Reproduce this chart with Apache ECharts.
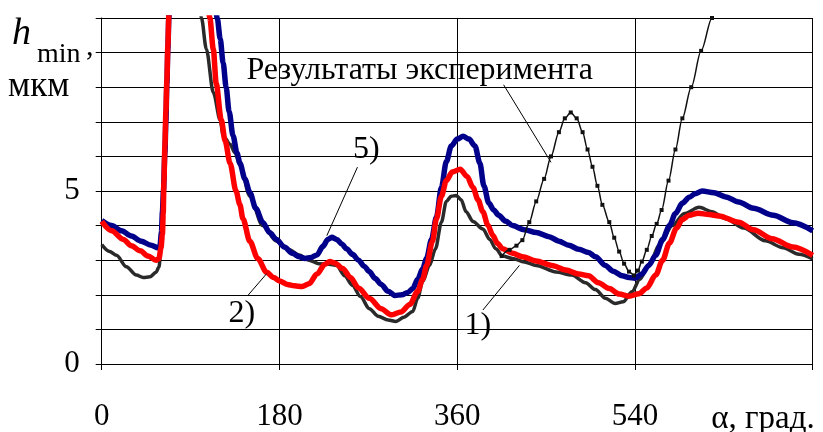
<!DOCTYPE html>
<html>
<head>
<meta charset="utf-8">
<script src="https://cdn.jsdelivr.net/npm/echarts@6/dist/echarts.min.js"></script>
<style>
html,body{margin:0;padding:0;background:#fff;}
#main{width:823px;height:432px;}
</style>
</head>
<body>
<div id="main"></div>
<script>
// x: crank angle alpha, degrees; y: h_min, micrometres
var xTicks = [0, 180, 360, 540, 720];
var yLabelled = [0, 5];

// curve 5) (blue)
var curve5 = [[0,4.15],[10,4.0],[20,3.85],[30,3.7],[40,3.55],[50,3.43],[57,3.36],[59,3.42],[60.5,3.8],[61.5,4.4],[62.5,5.0],[64,6.1],[65,7.0],[66,8.1],[67,9.1],[68,10],[70,11.5],[112,11.5],[117,10],[120,9.4],[123,8.7],[126,8.0],[129,7.3],[133,6.6],[137,6.1],[140,5.8],[145,5.35],[150,4.96],[156,4.5],[163,4.1],[170,3.8],[177,3.6],[185,3.38],[193,3.2],[200,3.1],[206,3.05],[212,3.08],[218,3.15],[224,3.4],[229,3.6],[233,3.66],[238,3.6],[243,3.47],[248,3.33],[254,3.17],[260,3.0],[266,2.82],[271,2.67],[277,2.47],[283,2.3],[290,2.1],[297,1.98],[304,2.0],[310,2.07],[315,2.18],[320,2.45],[325,2.75],[329,3.05],[334,3.6],[339,4.25],[344,5.1],[349,5.85],[354,6.3],[360,6.5],[366,6.58],[372,6.5],[378,6.3],[383,5.8],[387,5.15],[392,4.65],[397,4.45],[402,4.3],[409,4.13],[416,4.0],[428,3.88],[440,3.8],[453,3.68],[463,3.55],[473,3.43],[483,3.32],[493,3.22],[500,3.1],[510,2.85],[518,2.68],[527,2.55],[534,2.5],[540,2.48],[547,2.6],[554,2.85],[561,3.14],[568,3.6],[575,4.0],[581,4.35],[588,4.65],[595,4.82],[601,4.92],[608,5.0],[620,4.95],[632,4.83],[645,4.68],[660,4.5],[680,4.3],[700,4.08],[720,3.85]];

// curve 2) (red)
var curve2 = [[0,4.12],[10,3.85],[22,3.6],[30,3.42],[39,3.27],[47,3.12],[55,3.0],[58,3.05],[60,3.35],[61.5,3.75],[62.3,4.35],[63,5.25],[64,6.3],[65,7.3],[66,8.2],[67,9.2],[68,10.1],[70,11.5],[105,11.5],[109.5,10],[113,9.1],[116,8.1],[121,7.07],[125,6.45],[130,5.8],[136,5.0],[140,4.6],[143,4.2],[150,3.55],[158,3.05],[167,2.65],[174,2.5],[180,2.4],[188,2.3],[195,2.26],[203,2.24],[210,2.32],[218,2.6],[226,2.88],[231,2.96],[236,2.92],[244,2.76],[252,2.5],[260,2.2],[271,1.9],[283,1.6],[293,1.42],[303,1.5],[312,1.72],[320,2.1],[325,2.45],[329,2.85],[335,3.55],[339,4.2],[344,4.85],[349,5.3],[355,5.55],[363,5.63],[370,5.42],[376,5.1],[381,4.75],[386,4.4],[391,4.02],[396,3.72],[401,3.48],[406,3.33],[416,3.2],[426,3.1],[440,2.98],[456,2.85],[470,2.72],[483,2.6],[493,2.55],[503,2.35],[514,2.18],[524,2.02],[534,1.96],[544,2.03],[552,2.2],[561,2.57],[568,3.0],[575,3.5],[582,3.92],[588,4.18],[595,4.3],[604,4.36],[615,4.32],[625,4.28],[645,4.1],[660,3.88],[679,3.62],[700,3.38],[720,3.14]];

// curve 1) (black)
var curve1 = [[0,3.45],[8,3.25],[15,3.14],[25,2.81],[35,2.57],[42,2.5],[49,2.52],[55,2.65],[58,2.8],[60,3.3],[62,4.5],[64,6.0],[66,7.6],[67,8.7],[68,9.8],[70,11.5],[98,11.5],[101,10],[106,9.1],[113,7.85],[120,7.05],[123,6.6],[130,6.35],[135,6.1],[140,5.75],[150,4.85],[163,4.0],[177,3.55],[190,3.3],[200,3.15],[210,3.0],[220,2.9],[230,2.88],[238,2.85],[246,2.55],[254,2.27],[262,1.95],[271,1.6],[280,1.38],[290,1.27],[298,1.23],[306,1.35],[315,1.52],[320,1.9],[325,2.38],[332,2.85],[338,3.33],[344,4.1],[349,4.7],[354,4.85],[359,4.87],[364,4.75],[369,4.4],[376,4.12],[386,3.9],[393,3.6],[399,3.33],[406,3.12],[416,3.05],[428,2.95],[440,2.85],[460,2.66],[476,2.57],[490,2.35],[500,2.15],[510,1.9],[520,1.75],[528,1.8],[537,2.09],[545,2.45],[554,2.85],[565,3.45],[578,4.0],[590,4.35],[605,4.53],[618,4.4],[632,4.2],[650,3.93],[672,3.56],[690,3.36],[706,3.17],[720,3.04]];

// experiment results
var experiment = [[405,3.12],[413,3.3],[420,3.42],[426,3.58],[433,4.1],[440,4.7],[448,5.35],[455,6.0],[463,6.7],[469,7.1],[475,7.27],[481,7.1],[487,6.7],[492,6.2],[497,5.7],[502,5.15],[507,4.6],[514,4.1],[519,3.65],[524,3.25],[529,2.9],[534,2.67],[539,2.56],[543,2.7],[547,2.96],[552,3.3],[557,3.7],[562,4.05],[567,4.45],[574,5.3],[581,6.2],[588,7.1],[597,8.0],[607,9.05],[618,10],[625,10.7]];

// annotations: label position and leader line, in data coordinates
var annLabels = ['Результаты эксперимента', '5)', '2)', '1)'];
var annAt = [[322, 8.47], [268, 6.2], [142, 1.45], [381, 1.1]];
var annLine = [[[407, 8.07], [455, 5.83]], [[259, 5.69], [228, 3.71]], [[148, 1.98], [167, 2.61]], [[386, 1.56], [423, 2.85]]];

var FONT = 'Liberation Serif';
var chart = echarts.init(document.getElementById('main'), null, {renderer: 'canvas'});

var option = {
  animation: false,
  backgroundColor: '#fff',
  grid: {left: 101.7, right: 10.3, top: 18, bottom: 66, containLabel: false},
  xAxis: {
    type: 'value', min: 0, max: 720, interval: 180,
    axisLine: {show: true, lineStyle: {color: '#000', width: 1}},
    axisTick: {show: true, length: 6, lineStyle: {color: '#000'}},
    axisLabel: {
      margin: 37, color: '#000', fontFamily: FONT, fontSize: 31,
      formatter: function (v) { return (xTicks.indexOf(v) >= 0 && v !== 720) ? String(v) : ''; }
    },
    splitLine: {show: true, lineStyle: {color: '#000', width: 1}}
  },
  yAxis: {
    type: 'value', min: 0, max: 10, interval: 1,
    axisLine: {show: true, lineStyle: {color: '#000', width: 1}},
    axisTick: {show: true, length: 6, lineStyle: {color: '#000'}},
    axisLabel: {
      margin: 22, color: '#000', fontFamily: FONT, fontSize: 31,
      formatter: function (v) { return yLabelled.indexOf(v) >= 0 ? String(v) : ''; }
    },
    splitLine: {show: true, lineStyle: {color: '#000', width: 1}}
  },
  series: [
    {name: '1)', type: 'line', data: curve1, showSymbol: false, smooth: 0.3, smoothMonotone: 'x',
     lineStyle: {color: '#2a2a2a', width: 3.5}, z: 2},
    {name: '5)', type: 'line', data: curve5, showSymbol: false, smooth: 0.3, smoothMonotone: 'x',
     lineStyle: {color: '#00008b', width: 5.5}, z: 3},
    {name: '2)', type: 'line', data: curve2, showSymbol: false, smooth: 0.3, smoothMonotone: 'x',
     lineStyle: {color: '#ff0000', width: 5.5}, z: 4},
    {name: 'exp', type: 'line', data: experiment, showSymbol: true, symbol: 'rect', symbolSize: 4,
     smooth: 0.3, smoothMonotone: 'x',
     itemStyle: {color: '#111'}, lineStyle: {color: '#111', width: 1.5}, z: 5}
  ]
};
chart.setOption(option);

function tx(x, y, text, size, extra, align) {
  return {type: 'text', x: x, y: y, z: 100,
    style: {text: text, fill: '#000', font: (extra || '') + size + 'px ' + FONT,
            align: align || 'left', verticalAlign: 'middle'}};
}
var g = [];
for (var i = 0; i < annLabels.length; i++) {
  var p = chart.convertToPixel({gridIndex: 0}, annAt[i]);
  g.push(tx(p[0], p[1], annLabels[i], 32, '', 'center'));
  var a = chart.convertToPixel({gridIndex: 0}, annLine[i][0]);
  var b = chart.convertToPixel({gridIndex: 0}, annLine[i][1]);
  g.push({type: 'line', z: 100, shape: {x1: a[0], y1: a[1], x2: b[0], y2: b[1]}, style: {stroke: '#000', lineWidth: 1}});
}
// axis titles
g.push(tx(12, 34, 'h', 38, 'italic '));
g.push(tx(37, 55, 'min', 28));
g.push(tx(86, 47, ',', 30));
g.push(tx(8, 87, 'мкм', 35));
g.push(tx(763, 419, 'α, град.', 33, '', 'center'));
chart.setOption({graphic: g});
</script>
</body>
</html>
